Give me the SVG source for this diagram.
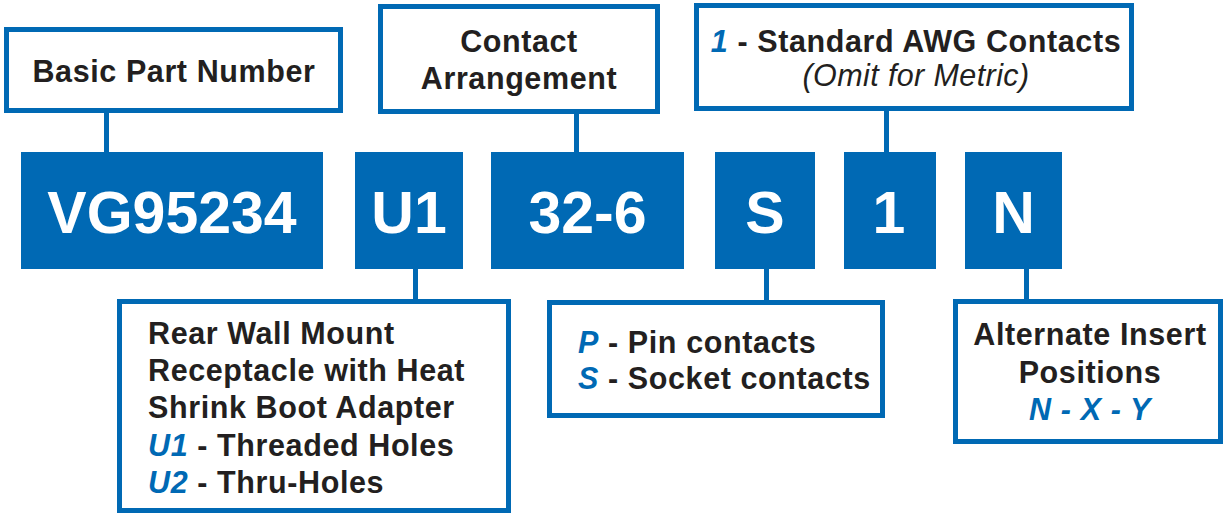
<svg xmlns="http://www.w3.org/2000/svg" width="1223" height="514" viewBox="0 0 1223 514">
<style>
.lbl{fill:#fff;stroke:#0069b4;stroke-width:5}
.code{fill:#0069b4}
.ct{font-family:"Liberation Sans",Arial,sans-serif;font-weight:bold;font-size:59px;fill:#fff;text-anchor:middle}
.t{font-family:"Liberation Sans",Arial,sans-serif;font-weight:bold;font-size:30.5px;fill:#231f20;letter-spacing:0.6px}
.m{text-anchor:middle}
.b{fill:#0069b4;font-style:italic}
.it{font-weight:normal;font-style:italic;letter-spacing:0.4px}
.conn line{stroke:#0069b4;stroke-width:5}
</style>
<rect width="1223" height="514" fill="#fff"/>
<g class="conn">
<line x1="106.5" y1="112" x2="106.5" y2="153"/>
<line x1="576.5" y1="113" x2="576.5" y2="153"/>
<line x1="886.5" y1="110" x2="886.5" y2="153"/>
<line x1="415.5" y1="268" x2="415.5" y2="302"/>
<line x1="766.5" y1="268" x2="766.5" y2="303"/>
<line x1="1026.5" y1="268" x2="1026.5" y2="302"/>
</g>
<g id="basic-label"><rect class="lbl" x="6.5" y="29.5" width="334" height="81"/><text class="t m" x="174" y="81.5">Basic Part Number</text></g>
<g id="contact-label"><rect class="lbl" x="380.5" y="6.5" width="277" height="105"/><text class="t m" x="519" y="51.5">Contact</text><text class="t m" x="519" y="89">Arrangement</text></g>
<g id="awg-label"><rect class="lbl" x="696.5" y="5.5" width="435" height="103"/><text class="t m" x="916" y="51.5"><tspan class="b">1</tspan> - Standard AWG Contacts</text><text class="t m it" x="916" y="86">(Omit for Metric)</text></g>
<g id="vg"><rect class="code" x="21" y="152" width="302" height="117"/><text class="ct" x="172" y="233">VG95234</text></g>
<g id="u1"><rect class="code" x="355" y="152" width="108" height="117"/><text class="ct" x="409" y="233">U1</text></g>
<g id="arr"><rect class="code" x="491" y="152" width="193" height="117"/><text class="ct" x="587.5" y="233">32-6</text></g>
<g id="s"><rect class="code" x="715" y="152" width="100" height="117"/><text class="ct" x="765" y="233">S</text></g>
<g id="one"><rect class="code" x="844" y="152" width="92" height="117"/><text class="ct" x="889" y="233">1</text></g>
<g id="n"><rect class="code" x="965" y="152" width="97" height="117"/><text class="ct" x="1013.5" y="233">N</text></g>
<g id="u-label"><rect class="lbl" x="119.5" y="301.5" width="389" height="209"/>
<text class="t" x="148" y="343.5">Rear Wall Mount</text>
<text class="t" x="148" y="380.5">Receptacle with Heat</text>
<text class="t" x="148" y="417.5">Shrink Boot Adapter</text>
<text class="t" x="148" y="456"><tspan class="b">U1</tspan> - Threaded Holes</text>
<text class="t" x="148" y="493"><tspan class="b">U2</tspan> - Thru-Holes</text>
</g>
<g id="ps-label"><rect class="lbl" x="549.5" y="302.5" width="333" height="113"/>
<text class="t" x="578" y="352.5"><tspan class="b">P</tspan> - Pin contacts</text>
<text class="t" x="578" y="388.5"><tspan class="b">S</tspan> - Socket contacts</text>
</g>
<g id="n-label"><rect class="lbl" x="955.5" y="301.5" width="265" height="140"/>
<text class="t m" x="1090" y="345">Alternate Insert</text>
<text class="t m" x="1090" y="383">Positions</text>
<text class="t m b" x="1090" y="420">N - X - Y</text>
</g>
</svg>
